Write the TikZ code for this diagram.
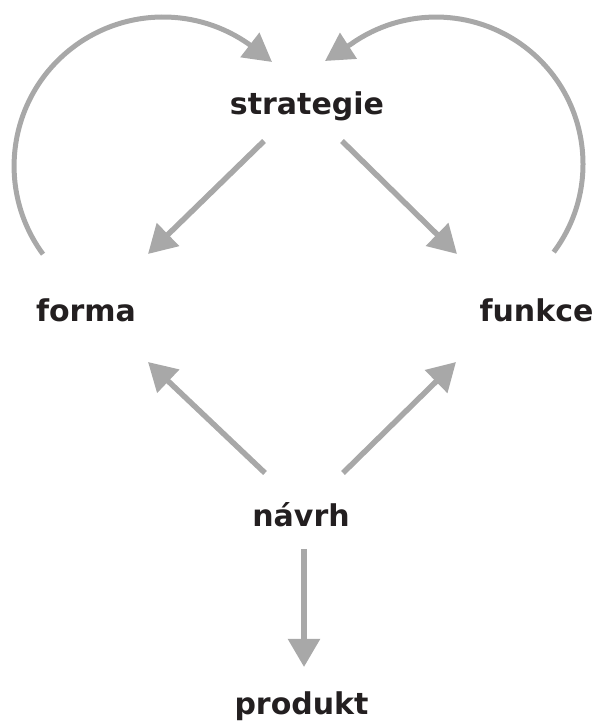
\documentclass[tikz,border=0pt]{standalone}
\usepackage{fontspec}
\usetikzlibrary{arrows.meta}
\newfontfamily\lblfont{DejaVu Sans Bold}
\definecolor{arrgray}{RGB}{168,168,168}
\definecolor{txtcol}{RGB}{35,31,32}
\begin{document}
\begin{tikzpicture}[x=1pt,y=1pt,
  lbl/.style={anchor=base,inner sep=0pt,text=txtcol,font=\lblfont\fontsize{30}{36}\selectfont},
  conn/.style={draw=arrgray,line width=5.5pt,-{Triangle[length=28pt,width=31pt]}},
  arcconn/.style={draw=arrgray,line width=5pt,-{Triangle[length=28pt,width=30pt]}}]
\path[use as bounding box] (0,0) rectangle (600,722);
% nodes (base positions)
\node[lbl] (strategie) at (307,607.5) {strategie};
\node[lbl] (forma) at (86,400.3) {forma};
\node[lbl] (funkce) at (536.5,400.3) {funkce};
\node[lbl] (navrh) at (301,195.3) {návrh};
\node[lbl] (produkt) at (301.5,8) {produkt};
% straight connectors
\draw[conn] ([shift={(-43,-26.5)}]strategie.base) -- ([shift={(62,67.7)}]forma.base);
\draw[conn] ([shift={(35,-26.5)}]strategie.base) -- ([shift={(-79.5,67.7)}]funkce.base);
\draw[conn] ([shift={(-36,53.7)}]navrh.base) -- ([shift={(62,-40.3)}]forma.base);
\draw[conn] ([shift={(42,53.7)}]navrh.base) -- ([shift={(-80.5,-40.3)}]funkce.base);
\draw[conn] ([shift={(3,-22.3)}]navrh.base) -- ([shift={(2.5,47)}]produkt.base);
% curved connectors
\coordinate (lstart) at (43,467.8);
\coordinate (ltip) at (272,660);
\coordinate (rstart) at (553.7,469.9);
\coordinate (rtip) at (325,661);
\draw[arcconn] (lstart) arc[start angle=216.3,end angle=54.6,radius=149] -- (ltip);
\draw[arcconn] (rstart) arc[start angle=-36.8,end angle=125.2,radius=147] -- (rtip);
\end{tikzpicture}
\end{document}
